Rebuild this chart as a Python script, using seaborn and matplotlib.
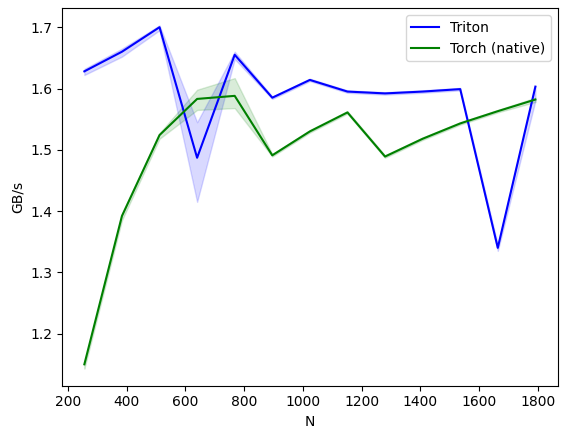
import matplotlib
matplotlib.use("Agg")
import matplotlib.pyplot as plt
import seaborn as sns
import pandas as pd

# benchmark sizes
N = [256, 384, 512, 640, 768, 896, 1024, 1152, 1280, 1408, 1536, 1664, 1792]

triton = [1.628, 1.660, 1.700, 1.487, 1.655, 1.585, 1.614, 1.595, 1.592, 1.595, 1.599, 1.340, 1.603]
triton_min = [1.622, 1.652, 1.695, 1.415, 1.648, 1.583, 1.612, 1.593, 1.590, 1.593, 1.597, 1.335, 1.580]
triton_max = [1.632, 1.665, 1.703, 1.545, 1.660, 1.587, 1.616, 1.597, 1.594, 1.597, 1.601, 1.345, 1.605]

torch = [1.150, 1.392, 1.524, 1.583, 1.588, 1.491, 1.530, 1.561, 1.489, 1.518, 1.543, 1.563, 1.582]
torch_min = [1.143, 1.385, 1.518, 1.565, 1.568, 1.489, 1.528, 1.559, 1.487, 1.516, 1.541, 1.561, 1.578]
torch_max = [1.152, 1.395, 1.527, 1.598, 1.617, 1.493, 1.532, 1.563, 1.491, 1.520, 1.545, 1.565, 1.585]

df = pd.DataFrame({"N": N, "Triton": triton, "Torch (native)": torch})
long = df.melt(id_vars="N", var_name="provider", value_name="GB/s")

fig, ax = plt.subplots(figsize=(5.67, 4.32), dpi=100)
fig.subplots_adjust(left=0.109, right=0.984, top=0.981, bottom=0.107)

sns.lineplot(data=long, x="N", y="GB/s", hue="provider",
             palette={"Triton": "blue", "Torch (native)": "green"}, ax=ax)
ax.fill_between(N, triton_min, triton_max, color="blue", alpha=0.15)
ax.fill_between(N, torch_min, torch_max, color="green", alpha=0.15)

ax.legend(title=None, loc="upper right")
ax.set_xticks(range(200, 1801, 200))
plt.savefig("out.png")
